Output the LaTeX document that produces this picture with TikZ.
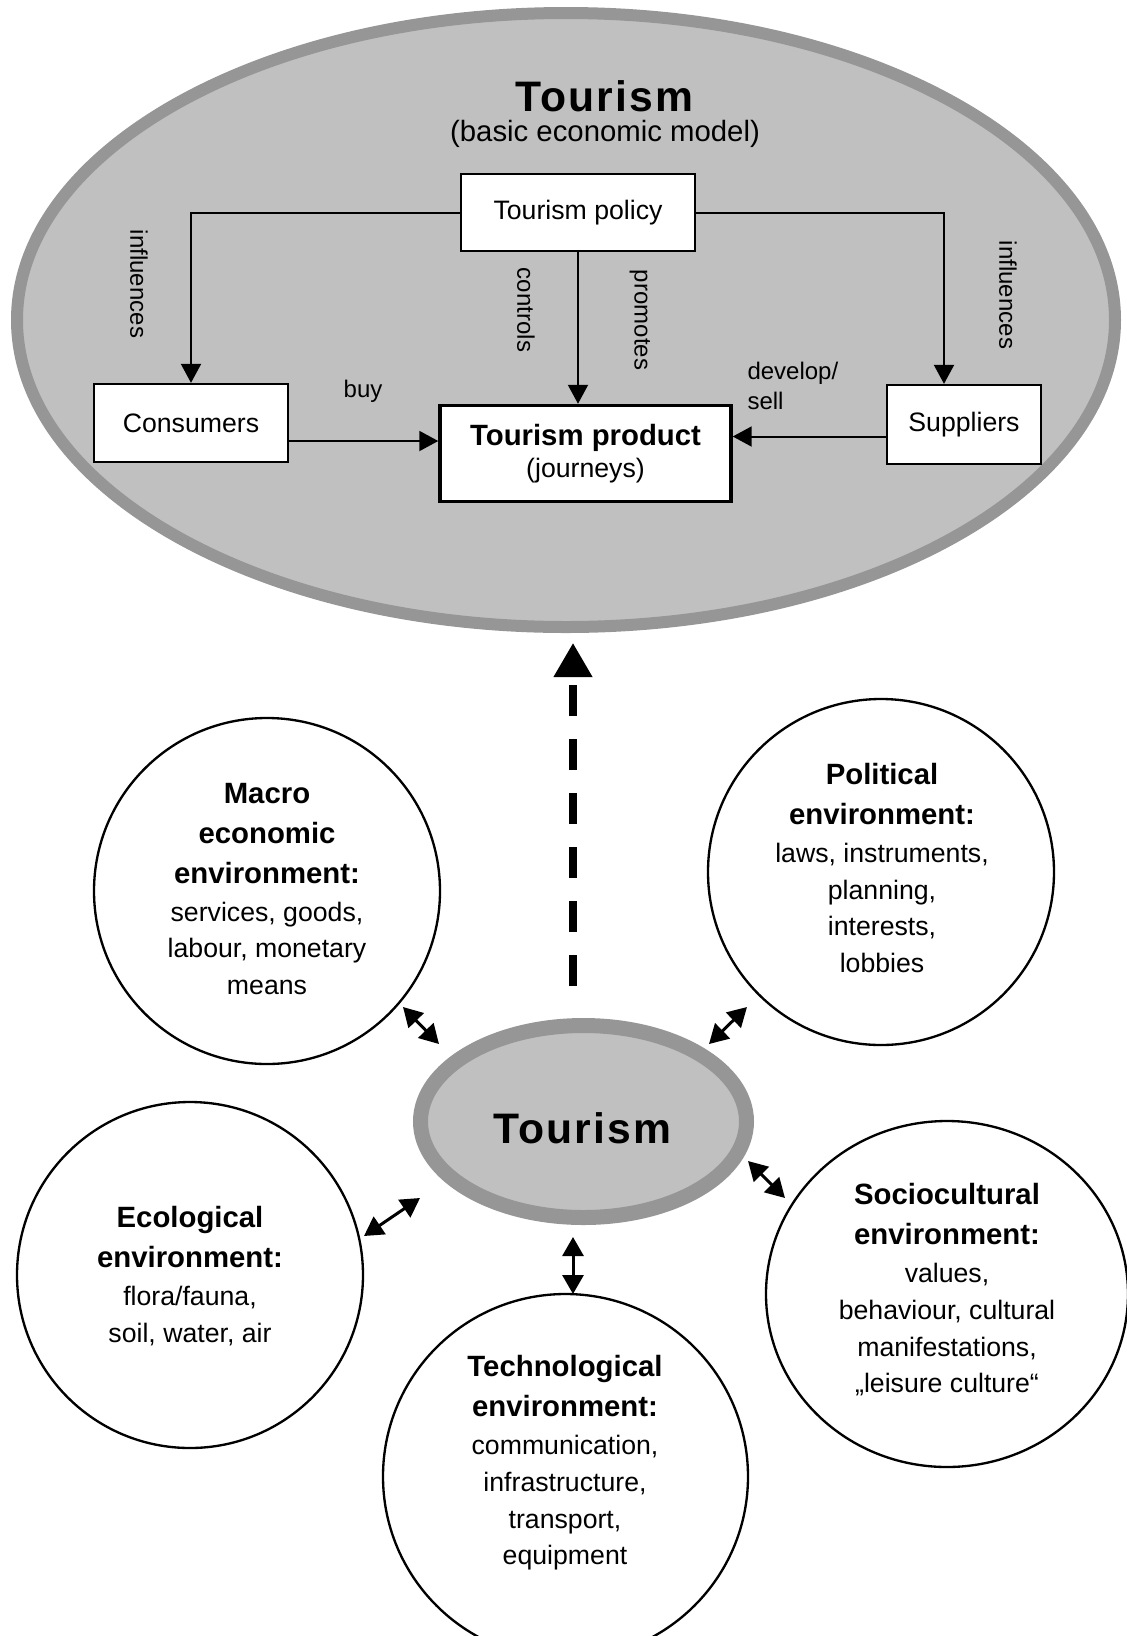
\documentclass[tikz,border=0pt]{standalone}
\usepackage{fontspec}
\setmainfont{Liberation Sans}
\usetikzlibrary{arrows.meta}
\definecolor{ringgrey}{RGB}{150,150,150}
\definecolor{fillgrey}{RGB}{192,192,192}
\newcommand{\envhead}[1]{{\fontsize{22}{27.5}\selectfont\bfseries #1}}
\tikzset{every picture/.style={line width=0.75pt}}

\begin{document}
\begin{tikzpicture}[x=0.75pt,y=0.75pt,yscale=-1,xscale=1,
  box/.style={draw, fill=white, line width=1.75pt, inner sep=0pt, align=center, font=\fontsize{20}{24}\selectfont},
  lbl/.style={inner sep=0pt, font=\fontsize{18}{22.5}\selectfont},
  title/.style={anchor=base, inner sep=0pt, font=\fontsize{32}{36}\selectfont\bfseries\addfontfeature{LetterSpace=5}},
  envline/.style={draw, line width=1.75pt},
  envtext/.style={align=center, inner sep=0pt, font=\fontsize{20}{27.5}\selectfont},
  arr/.style={line width=1.5pt, -{Triangle[length=14.25pt,width=15pt]}},
  dblarr/.style={line width=2.25pt, {Triangle[length=14.25pt,width=15.75pt]}-{Triangle[length=14.25pt,width=15.75pt]}},
  dasharr/.style={line width=5.5pt, dash pattern=on 23.25pt off 17.25pt, -{Triangle[length=25.5pt,width=27.75pt]}}]
\useasboundingbox (0,0) rectangle (1127,1636);

%Shape: Ellipse (basic model)
\draw [color=ringgrey, fill=fillgrey, line width=9pt] (566,320) ellipse [x radius=549, y radius=307];

% Text Node
\node [title] (modeltitle) at (604,111) {Tourism};
% Text Node
\node [anchor=base, inner sep=0pt, font=\fontsize{22}{26}\selectfont] (modelsub) at (605,141) {(basic economic model)};

%Boxes
\node [box, minimum width=175.5pt, minimum height=57.75pt] (policy) at (578,212.5) {Tourism policy};
\node [box, minimum width=145.5pt, minimum height=58.5pt] (consumers) at (191,423) {Consumers};
\node [box, line width=2.6pt, minimum width=218.25pt, minimum height=72pt] (product) at (585.5,453.5) {{\fontsize{22}{24}\selectfont\bfseries Tourism product}\\(journeys)};
\node [box, minimum width=115.5pt, minimum height=59.25pt] (suppliers) at (964,424.5) {Suppliers};

%Straight Lines
\coordinate (buyfrom) at ([yshift=13.5pt]consumers.east);
\coordinate (sellfrom) at ([yshift=9pt]suppliers.west);
\coordinate (supin) at ([xshift=-15pt]suppliers.north);
\draw [arr] (policy.west) -| (consumers.north);
\draw [arr] (policy.east) -| (supin);
\draw [arr] (policy.south) -- (policy.south |- product.north);
\draw [arr] (buyfrom) -- (buyfrom -| product.west);
\draw [arr] (sellfrom) -- (sellfrom -| product.east);

% Text Node
\node [lbl, rotate=-90] (inflleft) at (139,284) {influences};
\node [lbl, rotate=-90] (ctrl) at (526,310) {controls};
\node [lbl, rotate=-90] (prom) at (640,320) {promotes};
\node [lbl, rotate=-90] (inflright) at (1008,295) {influences};
\node [lbl] (buy) at (363,391) {buy};
\node [lbl, anchor=west, align=left] (devsell) at (747,386) {develop/\\sell};

%Dashed arrow up to the model
\coordinate (dashfoot) at (573,986);
\coordinate (dashtip) at (573,643);
\draw [dasharr] (dashfoot) -- (dashtip);

%Shape: Ellipse (tourism)
\draw [color=ringgrey, fill=fillgrey, line width=11.25pt] (583.5,1121.5) ellipse [x radius=163, y radius=96];
\node [title] (tourism) at (582,1143) {Tourism};

%Shape: Circles
\draw [envline] (267,891) circle [radius=173];
\draw [envline] (881,872) circle [radius=173];
\draw [envline] (190,1275) circle [radius=173];
\draw [envline] (565.5,1476.5) circle [radius=182.5];
\draw [envline] (947,1294) ellipse [x radius=181, y radius=173];

% Text Node
\node [envtext] (macro) at (267,889) {\envhead{Macro}\\[2.5pt]\envhead{economic}\\[2.5pt]\envhead{environment:}\\[1pt]services, goods,\\labour, monetary\\means};
% Text Node
\node [envtext] (political) at (882,868) {\envhead{Political}\\[2.5pt]\envhead{environment:}\\[1pt]laws, instruments,\\planning,\\interests,\\lobbies};
% Text Node
\node [envtext] (ecological) at (190,1276) {\envhead{Ecological}\\[2.5pt]\envhead{environment:}\\[1pt]flora/fauna,\\soil, water, air};
% Text Node
\node [envtext] (technological) at (565,1463) {\envhead{Technological}\\[2.5pt]\envhead{environment:}\\[1pt]communication,\\infrastructure,\\transport,\\equipment};
% Text Node
\node [envtext] (sociocultural) at (947,1290) {\envhead{Sociocultural}\\[2.5pt]\envhead{environment:}\\[1pt]values,\\behaviour, cultural\\manifestations,\\„leisure culture“};

%Double arrows
\coordinate (m1) at (403,1007); \coordinate (m2) at (439,1044);
\coordinate (p1) at (747,1007); \coordinate (p2) at (709,1044);
\coordinate (e1) at (420,1198); \coordinate (e2) at (364,1236);
\coordinate (s1) at (748,1161); \coordinate (s2) at (785,1198);
\coordinate (t1) at (573,1237); \coordinate (t2) at (573,1294);
\draw [dblarr] (m1) -- (m2);
\draw [dblarr] (p1) -- (p2);
\draw [dblarr] (e1) -- (e2);
\draw [dblarr] (s1) -- (s2);
\draw [dblarr] (t1) -- (t2);
\end{tikzpicture}
\end{document}
